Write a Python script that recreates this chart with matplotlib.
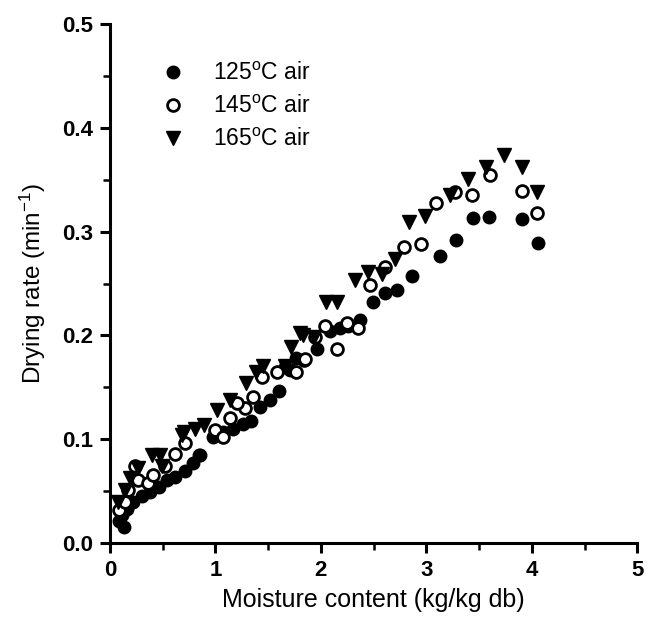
import matplotlib
matplotlib.use("Agg")
import matplotlib.pyplot as plt
from matplotlib.ticker import MultipleLocator

plt.rcParams['font.family'] = ['Liberation Sans', 'DejaVu Sans']
plt.rcParams['mathtext.fontset'] = 'custom'
plt.rcParams['mathtext.rm'] = 'Liberation Sans'
plt.rcParams['mathtext.it'] = 'Liberation Sans'
plt.rcParams['mathtext.bf'] = 'Liberation Sans:bold'

# 125 C air (filled circles)
x125 = [0.13, 0.09, 0.11, 0.16, 0.22, 0.30, 0.38, 0.46, 0.54, 0.62, 0.71, 0.79, 0.85,
        0.84, 0.98, 1.07, 1.17, 1.26, 1.34, 1.42, 1.52, 1.60, 1.71,
        1.66, 1.76, 1.96, 2.09, 2.18, 2.26, 2.37, 2.49, 2.61, 2.72, 2.86,
        3.13, 3.28, 3.44, 3.59, 3.91, 4.06]
y125 = [0.016, 0.021, 0.027, 0.033, 0.040, 0.045, 0.049, 0.054, 0.061, 0.064, 0.069, 0.077, 0.085,
        0.085, 0.102, 0.107, 0.110, 0.115, 0.118, 0.131, 0.138, 0.147, 0.167,
        0.170, 0.178, 0.187, 0.204, 0.207, 0.209, 0.215, 0.232, 0.241, 0.244, 0.257,
        0.277, 0.292, 0.313, 0.314, 0.312, 0.289]

# 145 C air (open circles)
x145 = [0.09, 0.14, 0.17, 0.27, 0.24, 0.36, 0.41, 0.52, 0.62, 0.71,
        1.00, 1.07, 1.14, 1.28, 1.20, 1.36, 1.44, 1.58, 1.76, 1.84,
        1.85, 1.94, 2.04, 2.15, 2.25, 2.35, 2.47, 2.61, 2.79, 2.95,
        3.09, 3.27, 3.43, 3.60, 3.91, 4.05]
y145 = [0.032, 0.040, 0.051, 0.061, 0.074, 0.058, 0.066, 0.074, 0.086, 0.096,
        0.109, 0.102, 0.121, 0.130, 0.135, 0.141, 0.160, 0.165, 0.165, 0.176,
        0.177, 0.199, 0.209, 0.187, 0.212, 0.207, 0.249, 0.266, 0.285, 0.288,
        0.328, 0.338, 0.335, 0.355, 0.339, 0.318]

# 165 C air (filled down-triangles)
x165 = [0.08, 0.14, 0.19, 0.27, 0.40, 0.47, 0.49, 0.68, 0.70, 0.81,
        0.89, 1.01, 1.14, 1.29, 1.38, 1.45, 1.66, 1.72, 1.80, 1.83,
        1.93, 2.05, 2.15, 2.32, 2.45, 2.58, 2.70, 2.84, 2.99, 3.22,
        3.39, 3.57, 3.74, 3.91, 4.05]
y165 = [0.040, 0.051, 0.063, 0.072, 0.085, 0.085, 0.074, 0.104, 0.107, 0.110,
        0.114, 0.128, 0.138, 0.154, 0.165, 0.171, 0.171, 0.189, 0.202, 0.200,
        0.199, 0.232, 0.232, 0.253, 0.261, 0.259, 0.274, 0.309, 0.315, 0.335,
        0.351, 0.362, 0.374, 0.362, 0.338]

fig = plt.figure(figsize=(6.47, 6.33), dpi=100)
ax = fig.add_axes([0.170, 0.142, 0.815, 0.820])

ax.plot(x125, y125, 'o', color='black', markersize=9, linestyle='none',
        label='125$^{\\mathrm{o}}$C air')
ax.plot(x145, y145, 'o', markerfacecolor='white', markeredgecolor='black',
        markeredgewidth=2, markersize=8.5, linestyle='none',
        label='145$^{\\mathrm{o}}$C air')
ax.plot(x165, y165, 'v', color='black', markersize=9.5, linestyle='none',
        label='165$^{\\mathrm{o}}$C air')

ax.set_xlim(0, 5)
ax.set_ylim(0, 0.5)
ax.xaxis.set_major_locator(MultipleLocator(1))
ax.xaxis.set_minor_locator(MultipleLocator(0.5))
ax.yaxis.set_major_locator(MultipleLocator(0.1))
ax.yaxis.set_minor_locator(MultipleLocator(0.05))
ax.yaxis.set_major_formatter(matplotlib.ticker.FormatStrFormatter('%.1f'))

for s in ['top', 'right']:
    ax.spines[s].set_visible(False)
for s in ['left', 'bottom']:
    ax.spines[s].set_linewidth(2.2)

ax.tick_params(which='major', direction='out', length=7, width=2.2,
               labelsize=16, pad=5)
ax.tick_params(which='minor', direction='out', length=5, width=1.8)
for lab in ax.get_xticklabels() + ax.get_yticklabels():
    lab.set_fontweight('bold')

ax.set_xlabel('Moisture content (kg/kg db)', fontsize=18, labelpad=5)
ax.set_ylabel('Drying rate (min$^{-1}$)', fontsize=17.5, labelpad=10)

leg = ax.legend(loc='upper left', bbox_to_anchor=(0.07, 0.945), frameon=False,
                fontsize=16.5, handletextpad=1.0, labelspacing=0.45,
                handlelength=1.5, borderaxespad=0)

fig.savefig('out.png', dpi=100)
